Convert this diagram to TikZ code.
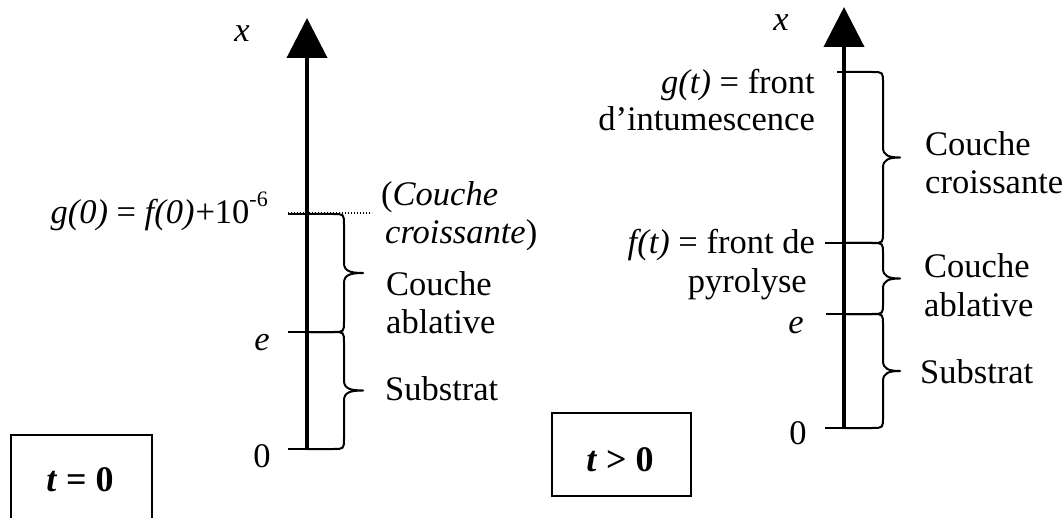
\documentclass[tikz,border=0pt]{standalone}
\usepackage{fontspec}
\setmainfont{Liberation Serif}
\usetikzlibrary{arrows.meta}
\newcommand\curlybrace[5]{%
  \pgfmathsetmacro\bm{(#3+#4)/2}%
  \draw[bracestyle] (#1,#3) -- ({#2-11},#3) .. controls (#2,#3) .. (#2,{#3+11})
    -- (#2,{\bm-10}) .. controls (#2,{\bm-2}) and ({#2+6},\bm) .. (#5,\bm)
    .. controls ({#2+6},\bm) and (#2,{\bm+2}) .. (#2,{\bm+10})
    -- (#2,{#4-11}) .. controls (#2,#4) .. ({#2-11},#4) -- (#1,#4);}
\newcommand\supexp[1]{\raisebox{0.52em}{\fontsize{22}{22}\selectfont #1}}
\tikzset{
  lbl/.style={inner sep=0pt, font=\fontsize{34.5}{40}\selectfont},
  boxlbl/.style={inner sep=0pt, font=\fontsize{36}{40}\selectfont\bfseries},
  axisline/.style={line width=4pt, -{Triangle[length=40pt,width=40pt]}},
  tickline/.style={line width=2pt},
  bracestyle/.style={line width=2pt, line join=round, line cap=round},
  framebox/.style={draw, line width=2pt, inner sep=0pt},
}
\begin{document}
\begin{tikzpicture}[x=1pt,y=-1pt]
\useasboundingbox (0,0) rectangle (1064,518);
% ---------- left diagram (t = 0)
\coordinate (LA0) at (307,449);
\coordinate (LAtop) at (307,18);
\coordinate (LgT) at (288,214);
\coordinate (LeT) at (288,332);
\coordinate (LzT) at (288,449);
\coordinate (Ldot) at (372,213);
\draw[line width=1.3pt, dash pattern=on 1.3pt off 1.7pt] (288,213) -- (Ldot);
\draw[tickline] (LgT) -- (307,214);
\draw[tickline] (LeT) -- (307,332);
\draw[tickline] (LzT) -- (LA0);
\curlybrace{307}{344}{214}{332}{363}
\curlybrace{307}{344}{332}{449}{363}
\draw[axisline] (LA0) -- (LAtop);

\node[lbl, anchor=base] (Lx) at (242,42) {\textit{x}};
\node[lbl, anchor=base east] (Lg) at (268,224) {\textit{g(0)} = \textit{f(0)}\kern1pt+10\supexp{-6}};
\node[lbl, anchor=base] (Le) at (262,350) {\textit{e}};
\node[lbl, anchor=base] (Lz) at (262,467) {0};
\node[lbl, anchor=base west] (Lc1) at (381,206) {(\textit{Couche}};
\node[lbl, anchor=base west] (Lc2) at (385,244) {\textit{croissante})};
\node[lbl, anchor=base west] (La1) at (386,295) {Couche};
\node[lbl, anchor=base west] (La2) at (386,333) {ablative};
\node[lbl, anchor=base west] (Ls) at (385,400) {Substrat};

\node[framebox, minimum width=141pt, minimum height=100pt] (box0) at (81.5,485) {};
\node[boxlbl] (t0) at (80,480) {\textit{t} = 0};

% ---------- right diagram (t > 0)
\coordinate (RA0) at (844,428);
\coordinate (RAtop) at (844,7);
\coordinate (RgT) at (837,72);
\coordinate (RfT) at (825,243);
\coordinate (ReT) at (826,314);
\coordinate (RzT) at (825,428);
\draw[tickline] (RgT) -- (844,72);
\draw[tickline] (RfT) -- (844,243);
\draw[tickline] (ReT) -- (844,314);
\draw[tickline] (RzT) -- (RA0);
\curlybrace{844}{883}{72}{243}{900}
\curlybrace{844}{883}{243}{314}{900}
\curlybrace{844}{883}{314}{428}{900}
\draw[axisline] (RA0) -- (RAtop);

\node[lbl, anchor=base] (Rx) at (781,31) {\textit{x}};
\node[lbl, anchor=base east] (Rg1) at (815,94) {\textit{g(t)} = front};
\node[lbl, anchor=base east] (Rg2) at (815,131) {d’intumescence};
\node[lbl, anchor=base west] (Rc1) at (925,156) {Couche};
\node[lbl, anchor=base west] (Rc2) at (925,194) {croissante};
\node[lbl, anchor=base east] (Rf1) at (815,254) {\textit{f(t)} = front de};
\node[lbl, anchor=base east] (Rf2) at (807,292) {pyrolyse};
\node[lbl, anchor=base west] (Ra1) at (924,278) {Couche};
\node[lbl, anchor=base west] (Ra2) at (924,316) {ablative};
\node[lbl, anchor=base] (Re) at (796,333) {\textit{e}};
\node[lbl, anchor=base west] (Rs) at (920,383) {Substrat};
\node[lbl, anchor=base] (Rz) at (798,444) {0};

\node[framebox, minimum width=139pt, minimum height=83pt] (box1) at (621.5,454.5) {};
\node[boxlbl] (t1) at (620,460) {\textit{t} > 0};
\end{tikzpicture}
\end{document}
